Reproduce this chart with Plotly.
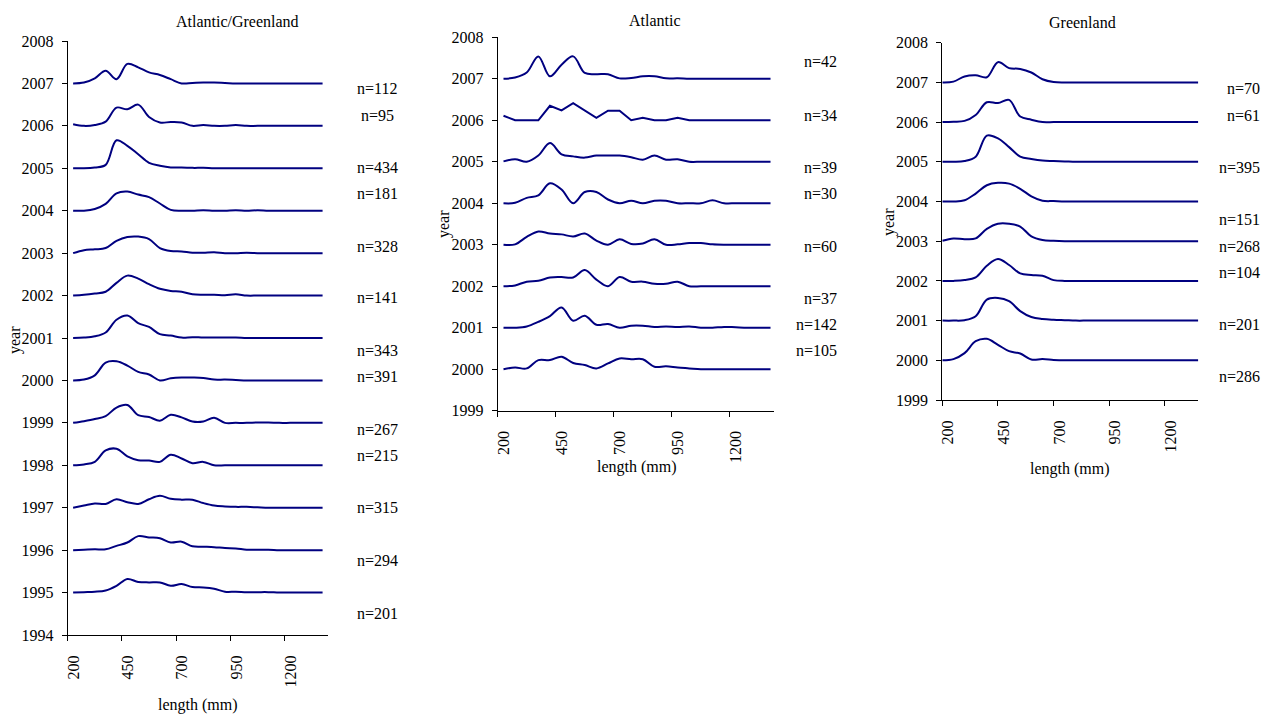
import plotly.graph_objects as go

# ---------------- data ----------------
# length grid (mm) for each panel
X_AG = [225, 275, 325, 375, 425, 475, 525, 575, 625, 675, 725, 775,
        825, 875, 925, 975, 1025, 1075, 1125, 1175, 1225, 1275, 1325, 1375]
X_AT = [225, 275, 325, 375, 425, 475, 525, 575, 625, 675, 725, 775,
        825, 875, 925, 975, 1025, 1075, 1125, 1175, 1225, 1275, 1325, 1375]
X_GR = [200, 250, 300, 350, 400, 450, 500, 550, 600, 650, 700, 750,
        800, 850, 900, 950, 1000, 1050, 1100, 1150, 1200, 1250, 1300, 1350]

X_TICKS = [200, 450, 700, 950, 1200]

# Atlantic/Greenland (relative frequency, in year units above each baseline)
YEARS_AG = [2007, 2006, 2005, 2004, 2003, 2002, 2001, 2000, 1999, 1998, 1997, 1996, 1995]
N_AG = [112, 95, 434, 181, 328, 141, 343, 391, 267, 215, 315, 294, 201]
AG_2007 = [0, 0.02, 0.12, 0.30, 0.10, 0.46, 0.38, 0.26, 0.20, 0.10, 0.0, 0.01, 0.02, 0.02, 0.01, 0, 0, 0, 0, 0, 0, 0, 0, 0]
AG_2006 = [0.04, 0, 0.02, 0.10, 0.43, 0.39, 0.50, 0.21, 0.08, 0.09, 0.08, 0, 0.02, 0, 0, 0.02, 0, 0, 0, 0, 0, 0, 0, 0]
AG_2005 = [0, 0, 0.02, 0.08, 0.66, 0.53, 0.33, 0.13, 0.06, 0.02, 0.02, 0.01, 0.01, 0, 0, 0, 0, 0, 0, 0, 0, 0, 0, 0]
AG_2004 = [0, 0, 0.04, 0.16, 0.41, 0.45, 0.38, 0.32, 0.17, 0.02, 0, 0, 0.01, 0, 0, 0.01, 0, 0.01, 0, 0, 0, 0, 0, 0]
AG_2003 = [0, 0.07, 0.09, 0.12, 0.29, 0.38, 0.39, 0.33, 0.12, 0.05, 0.04, 0.01, 0.01, 0.02, 0, 0, 0.01, 0, 0, 0, 0, 0, 0, 0]
AG_2002 = [0, 0.02, 0.05, 0.09, 0.30, 0.47, 0.40, 0.27, 0.16, 0.11, 0.09, 0.03, 0.02, 0.02, 0.01, 0.03, 0, 0, 0, 0, 0, 0, 0, 0]
AG_2001 = [0, 0.01, 0.04, 0.13, 0.43, 0.53, 0.35, 0.26, 0.09, 0.06, 0.01, 0.02, 0.01, 0.01, 0.01, 0.01, 0, 0, 0, 0, 0, 0, 0, 0]
AG_2000 = [0, 0.02, 0.12, 0.42, 0.45, 0.35, 0.20, 0.14, 0, 0.05, 0.07, 0.07, 0.06, 0.02, 0.02, 0.01, 0, 0, 0, 0, 0, 0, 0, 0]
AG_1999 = [0, 0.04, 0.09, 0.16, 0.36, 0.42, 0.18, 0.14, 0.05, 0.19, 0.13, 0.03, 0.03, 0.12, 0, 0, 0, 0.01, 0.01, 0, 0, 0, 0, 0]
AG_1998 = [0, 0.02, 0.08, 0.35, 0.39, 0.21, 0.12, 0.11, 0.08, 0.25, 0.16, 0.05, 0.08, 0, 0, 0, 0, 0, 0, 0, 0, 0, 0, 0]
AG_1997 = [0, 0.05, 0.10, 0.09, 0.20, 0.13, 0.09, 0.20, 0.28, 0.21, 0.19, 0.19, 0.11, 0.05, 0.03, 0.02, 0.02, 0.01, 0, 0, 0, 0, 0, 0]
AG_1996 = [0, 0.01, 0.02, 0.02, 0.10, 0.18, 0.33, 0.30, 0.28, 0.18, 0.20, 0.09, 0.08, 0.07, 0.05, 0.04, 0.01, 0.01, 0.01, 0, 0, 0, 0, 0]
AG_1995 = [0, 0.01, 0.02, 0.05, 0.16, 0.32, 0.25, 0.24, 0.24, 0.16, 0.20, 0.13, 0.12, 0.09, 0.02, 0.02, 0.01, 0.01, 0.01, 0, 0, 0, 0, 0]

# Atlantic
YEARS_AT = [2007, 2006, 2005, 2004, 2003, 2002, 2001, 2000]
N_AT = [42, 34, 39, 30, 60, 37, 142, 105]
AT_2007 = [0, 0.03, 0.15, 0.54, 0.06, 0.34, 0.54, 0.14, 0.11, 0.11, 0.01, 0.02, 0.06, 0.06, 0.01, 0.01, 0, 0, 0, 0, 0, 0, 0, 0]
AT_2006 = [0.11, 0, 0, 0, 0.35, 0.24, 0.41, 0.23, 0.06, 0.23, 0.23, 0, 0.06, 0, 0, 0.06, 0, 0, 0, 0, 0, 0, 0, 0]
AT_2005 = [0.01, 0.06, 0, 0.15, 0.45, 0.18, 0.13, 0.10, 0.15, 0.15, 0.15, 0.11, 0.05, 0.15, 0.05, 0.06, 0, 0, 0, 0, 0, 0, 0, 0]
AT_2004 = [0, 0.01, 0.13, 0.19, 0.48, 0.33, 0, 0.27, 0.27, 0.09, 0, 0.06, 0, 0.06, 0.06, 0, 0, 0, 0.07, 0, 0, 0, 0, 0]
AT_2003 = [0, 0.01, 0.19, 0.32, 0.27, 0.25, 0.20, 0.27, 0.10, 0, 0.13, 0.02, 0.03, 0.13, 0, 0.01, 0.04, 0.04, 0.01, 0, 0, 0, 0, 0]
AT_2002 = [0, 0.02, 0.11, 0.13, 0.21, 0.22, 0.21, 0.39, 0.16, 0, 0.22, 0.11, 0.11, 0.06, 0.06, 0.11, 0, 0, 0, 0, 0, 0, 0, 0]
AT_2001 = [0, 0, 0.03, 0.14, 0.28, 0.49, 0.17, 0.29, 0.07, 0.09, 0, 0.05, 0.05, 0.02, 0.03, 0.02, 0.03, 0, 0, 0.02, 0.01, 0, 0, 0]
AT_2000 = [0, 0.04, 0.02, 0.22, 0.22, 0.30, 0.15, 0.10, 0.02, 0.14, 0.26, 0.24, 0.24, 0.06, 0.07, 0.04, 0.02, 0, 0, 0, 0, 0, 0, 0]

# Greenland
YEARS_GR = [2007, 2006, 2005, 2004, 2003, 2002, 2001, 2000]
N_GR = [70, 61, 395, 151, 268, 104, 201, 286]
GR_2007 = [0, 0.02, 0.15, 0.18, 0.13, 0.51, 0.36, 0.34, 0.25, 0.08, 0.01, 0, 0, 0, 0, 0, 0, 0, 0, 0, 0, 0, 0, 0]
GR_2006 = [0, 0.01, 0.03, 0.18, 0.50, 0.48, 0.56, 0.14, 0.06, 0, 0, 0, 0, 0, 0, 0, 0, 0, 0, 0, 0, 0, 0, 0]
GR_2005 = [0, 0, 0.02, 0.13, 0.66, 0.59, 0.37, 0.13, 0.07, 0.03, 0.02, 0.01, 0, 0, 0, 0, 0, 0, 0, 0, 0, 0, 0, 0]
GR_2004 = [0, 0, 0.03, 0.20, 0.41, 0.47, 0.45, 0.32, 0.13, 0.02, 0.01, 0, 0, 0, 0, 0, 0, 0, 0, 0, 0, 0, 0, 0]
GR_2003 = [0.01, 0.07, 0.05, 0.07, 0.31, 0.44, 0.44, 0.37, 0.12, 0.03, 0.01, 0, 0, 0, 0, 0, 0, 0, 0, 0, 0, 0, 0, 0]
GR_2002 = [0, 0, 0.02, 0.09, 0.38, 0.55, 0.40, 0.19, 0.15, 0.13, 0.02, 0, 0, 0, 0, 0, 0, 0, 0, 0, 0, 0, 0, 0]
GR_2001 = [0, 0, 0.01, 0.11, 0.53, 0.57, 0.49, 0.24, 0.09, 0.04, 0.02, 0.01, 0, 0, 0, 0, 0, 0, 0, 0, 0, 0, 0, 0]
GR_2000 = [0, 0.03, 0.18, 0.48, 0.54, 0.39, 0.23, 0.17, 0.02, 0.03, 0.01, 0, 0, 0, 0, 0, 0, 0, 0, 0, 0, 0, 0, 0]

CURVES_AG = [AG_2007, AG_2006, AG_2005, AG_2004, AG_2003, AG_2002, AG_2001,
             AG_2000, AG_1999, AG_1998, AG_1997, AG_1996, AG_1995]
CURVES_AT = [AT_2007, AT_2006, AT_2005, AT_2004, AT_2003, AT_2002, AT_2001, AT_2000]
CURVES_GR = [GR_2007, GR_2006, GR_2005, GR_2004, GR_2003, GR_2002, GR_2001, GR_2000]

# ---------------- layout constants (pixels) ----------------
W, H = 1270, 715
FONT = "Liberation Serif, Times New Roman, serif"
FS = 16
LINE_COLOR = "#000080"


def fx(p):
    return p / W


def fy(p):
    return 1 - p / H


panels = [
    dict(name="Atlantic/Greenland", x=X_AG, years=YEARS_AG, curves=CURVES_AG, n=N_AG,
         xr=[200, 1400], yr=[1994, 2008], dom_x=(67.7, 328.0), dom_y=(41.0, 635.0),
         title_xy=(237, 21), ytitle_xy=(15, 340), xtitle_xy=(198, 705),
         n_x=377, n_anchor="center",
         n_y=[88, 115, 167, 193, 246, 297, 350, 376, 429, 455, 507, 560, 613],
         linear=[]),
    dict(name="Atlantic", x=X_AT, years=YEARS_AT, curves=CURVES_AT, n=N_AT,
         xr=[200, 1390], yr=[1999, 2008], dom_x=(497.7, 774.0), dom_y=(37.3, 410.7),
         title_xy=(655, 20), ytitle_xy=(444, 224), xtitle_xy=(637, 467),
         n_x=839, n_anchor="right",
         n_y=[62, 115, 167, 193, 246, 298, 324, 350],
         linear=[2006]),
    dict(name="Greenland", x=X_GR, years=YEARS_GR, curves=CURVES_GR, n=N_GR,
         xr=[200, 1350], yr=[1999, 2008], dom_x=(942.3, 1198.3), dom_y=(42.7, 400.0),
         title_xy=(1082, 22), ytitle_xy=(889, 222), xtitle_xy=(1070, 469),
         n_x=1262, n_anchor="right",
         n_y=[89, 115, 167, 219, 246, 272, 324, 377],
         linear=[]),
]

fig = go.Figure()
annotations = []
layout_axes = {}

for i, p in enumerate(panels):
    k = "" if i == 0 else str(i + 1)
    for year, dens in zip(p["years"], p["curves"]):
        shape = "linear" if year in p["linear"] else "spline"
        fig.add_trace(go.Scatter(
            x=p["x"], y=[year + v for v in dens], mode="lines",
            line=dict(color=LINE_COLOR, width=2, shape=shape, smoothing=1.0),
            xaxis="x" + k, yaxis="y" + k, showlegend=False, hoverinfo="skip"))

    axis_common = dict(showline=True, linecolor="black", linewidth=1,
                       ticks="outside", ticklen=5, tickcolor="black", tickwidth=1,
                       showgrid=False, zeroline=False, automargin=False,
                       tickfont=dict(family=FONT, size=FS, color="black"))
    layout_axes["xaxis" + k] = dict(
        axis_common, domain=[fx(p["dom_x"][0]), fx(p["dom_x"][1])],
        range=p["xr"], tickmode="array", tickvals=X_TICKS,
        ticktext=[str(t) for t in X_TICKS], tickangle=-90,
        anchor="y" + k, ticklabelstandoff=8, ticklabelshift=6)
    layout_axes["yaxis" + k] = dict(
        axis_common, domain=[fy(p["dom_y"][1]), fy(p["dom_y"][0])],
        range=p["yr"], tickmode="linear", tick0=p["yr"][0], dtick=1,
        anchor="x" + k, ticklabelstandoff=5)

    tx, ty = p["title_xy"]
    annotations.append(dict(text=p["name"], x=fx(tx), y=fy(ty), xref="paper", yref="paper",
                            xanchor="center", yanchor="middle", showarrow=False,
                            font=dict(family=FONT, size=FS, color="black")))
    yx, yy = p["ytitle_xy"]
    annotations.append(dict(text="year", x=fx(yx), y=fy(yy), xref="paper", yref="paper",
                            xanchor="center", yanchor="middle", showarrow=False, textangle=-90,
                            font=dict(family=FONT, size=FS, color="black")))
    xx, xy = p["xtitle_xy"]
    annotations.append(dict(text="length (mm)", x=fx(xx), y=fy(xy), xref="paper", yref="paper",
                            xanchor="center", yanchor="middle", showarrow=False,
                            font=dict(family=FONT, size=FS, color="black")))
    for n, ny in zip(p["n"], p["n_y"]):
        annotations.append(dict(text=f"n={n}", x=fx(p["n_x"]), y=fy(ny), xref="paper", yref="paper",
                                xanchor=p["n_anchor"], yanchor="middle", showarrow=False,
                                font=dict(family=FONT, size=FS, color="black")))

fig.update_layout(
    template="none",
    width=W, height=H, autosize=False,
    margin=dict(l=0, r=0, t=0, b=0, pad=0),
    paper_bgcolor="white", plot_bgcolor="white",
    annotations=annotations,
    **layout_axes,
)

fig.write_html("out.html")
